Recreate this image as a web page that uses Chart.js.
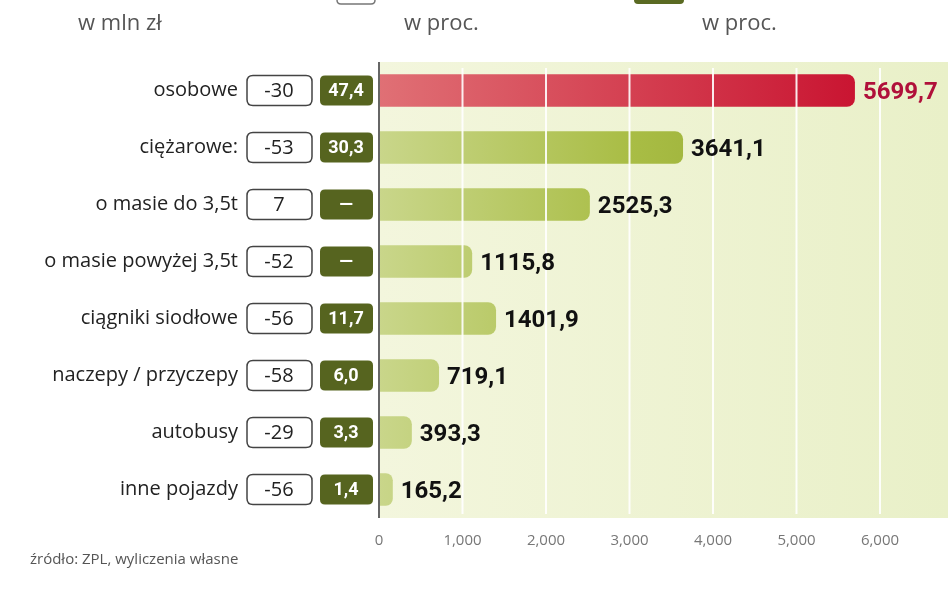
<!DOCTYPE html>
<html><head><meta charset="utf-8">
<script src="https://cdn.jsdelivr.net/npm/chart.js@4/dist/chart.umd.min.js"></script>
<style>body{margin:0;background:#fff}canvas{display:block}</style>
</head><body><canvas id="c" width="948" height="593"></canvas>
<script>
const categories=["osobowe","ciężarowe:","o masie do 3,5t","o masie powyżej 3,5t","ciągniki siodłowe","naczepy / przyczepy","autobusy","inne pojazdy"];
const values=[5699.7,3641.1,2525.3,1115.8,1401.9,719.1,393.3,165.2];
const changes=["-30","-53","7","-52","-56","-58","-29","-56"];
const shares=["47,4","30,3","—","—","11,7","6,0","3,3","1,4"];
const valueLabels=["5699,7","3641,1","2525,3","1115,8","1401,9","719,1","393,3","165,2"];
const tickLabels=[0,1000,2000,3000,4000,5000,6000];

function rr(ctx,x,y,w,h,r){ctx.beginPath();ctx.moveTo(x+r,y);ctx.lineTo(x+w-r,y);ctx.quadraticCurveTo(x+w,y,x+w,y+r);ctx.lineTo(x+w,y+h-r);ctx.quadraticCurveTo(x+w,y+h,x+w-r,y+h);ctx.lineTo(x+r,y+h);ctx.quadraticCurveTo(x,y+h,x,y+h-r);ctx.lineTo(x,y+r);ctx.quadraticCurveTo(x,y,x+r,y);ctx.closePath();}

const deco={id:'deco',
beforeDraw(ch){const c=ch.ctx,a=ch.chartArea;
 c.save();const g=c.createLinearGradient(a.left,0,948,0);g.addColorStop(0,'#f3f6dd');g.addColorStop(1,'#e9f0c8');
 c.fillStyle=g;c.fillRect(a.left,a.top,948-a.left,a.bottom-a.top);
 c.font='22px "Open Sans"';c.fillStyle='#555';c.textBaseline='alphabetic';c.textAlign='left';
 c.fillText('w mln zł',78,30);c.fillText('w proc.',404,30);c.fillText('w proc.',702,30);
 c.strokeStyle='#777';c.lineWidth=1.5;rr(c,337,-12,38,16,4);c.stroke();
 c.fillStyle='#5a6a22';rr(c,634,-12,50,16,4);c.fill();
 c.fillStyle='#e8b23a';c.fillRect(30,-8,20,6);
 c.restore();},
afterDatasetsDraw(ch){const c=ch.ctx,a=ch.chartArea,x=ch.scales.x,y=ch.scales.y;c.save();
 c.strokeStyle='rgba(255,255,255,0.9)';c.lineWidth=2;
 tickLabels.slice(1).forEach(t=>{const px=x.getPixelForValue(t);c.beginPath();c.moveTo(px,a.top+6);c.lineTo(px,a.bottom-4);c.stroke();});
 c.strokeStyle='#666';c.lineWidth=2;c.beginPath();c.moveTo(a.left,a.top);c.lineTo(a.left,a.bottom);c.stroke();
 const meta=ch.getDatasetMeta(0);
 categories.forEach((cat,i)=>{const cy=y.getPixelForValue(i);
  c.textBaseline='middle';c.textAlign='right';c.fillStyle='#222';c.font='20px "Open Sans"';
  c.fillText(cat,238,cy);
  c.fillStyle='#fff';c.strokeStyle='#444';c.lineWidth=1.5;rr(c,247,cy-15,65,30,6);c.fill();c.stroke();
  c.textAlign='center';c.fillStyle='#222';c.font='20px "Open Sans"';c.fillText(changes[i],279,cy+1);
  c.fillStyle='#56641f';rr(c,320,cy-15,53,30,5);c.fill();
  c.fillStyle='#fff';c.font='bold 18px "Roboto"';c.fillText(shares[i],346,cy+1);
  const bx=meta.data[i].x;c.textAlign='left';c.font='bold 24px "Roboto"';
  c.fillStyle=i===0?'#b0103a':'#111';c.fillText(valueLabels[i],bx+8,cy+2);
 });
 c.fillStyle='#555';c.font='15px "Open Sans"';c.textAlign='left';c.fillText('źródło: ZPL, wyliczenia własne',30,560);
 c.restore();}};

new Chart(document.getElementById('c'),{type:'bar',
data:{labels:categories,datasets:[{data:values,
 backgroundColor:(ctx)=>{const ch=ctx.chart,a=ch.chartArea;if(!a)return '#a8bd40';
  const g=ch.ctx.createLinearGradient(a.left,0,a.right,0);
  if(ctx.dataIndex===0){g.addColorStop(0,'#e07075');g.addColorStop(1,'#c8102e');}
  else{g.addColorStop(0,'#c9d68a');g.addColorStop(0.5,'#a9bd45');g.addColorStop(1,'#8ea42c');}
  return g;},
 borderRadius:{topRight:8,bottomRight:8,topLeft:0,bottomLeft:0},borderSkipped:false,
 categoryPercentage:1,barPercentage:0.57}]},
options:{indexAxis:'y',responsive:false,animation:false,
 layout:{padding:{left:379,right:68,top:62,bottom:35}},
 plugins:{legend:{display:false},tooltip:{enabled:false}},
 scales:{x:{min:0,max:6000,afterBuildTicks:s=>{s.ticks=tickLabels.map(v=>({value:v}));},
   afterFit:s=>{s.height=40;},grid:{display:false},border:{display:false},
   ticks:{color:'#777',font:{family:'Open Sans',size:15},padding:6}},
  y:{display:false}}},
plugins:[deco]});
</script></body></html>
